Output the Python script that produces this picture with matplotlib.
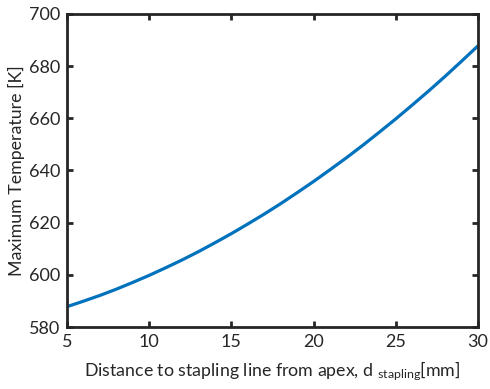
import matplotlib
matplotlib.use("Agg")
import matplotlib.pyplot as plt

distance_mm = [5, 6, 7, 8, 9, 10, 11, 12, 13, 14, 15, 16, 17, 18, 19, 20,
               21, 22, 23, 24, 25, 26, 27, 28, 29, 30]
max_temp_K = [587.8, 589.9, 592.1, 594.5, 597.1, 599.8, 602.7, 605.7, 608.9,
              612.3, 615.8, 619.5, 623.3, 627.3, 631.5, 635.8, 640.3, 644.9,
              649.7, 654.7, 659.8, 665.1, 670.5, 676.1, 681.9, 687.8]
x_ticks = [5, 10, 15, 20, 25, 30]
y_ticks = [580, 600, 620, 640, 660, 680, 700]

plt.rcParams['font.family'] = ['Lato', 'DejaVu Sans']
plt.rcParams['mathtext.fontset'] = 'custom'
plt.rcParams['mathtext.rm'] = 'Lato'
plt.rcParams['mathtext.it'] = 'Lato:italic'

txt = '#262626'
fig = plt.figure(figsize=(4.9, 3.89), dpi=100)
ax = fig.add_axes([67/490, 1 - 327/389, (478-67)/490, (327-14)/389])
ax.plot(distance_mm, max_temp_K, color='#0072BD', lw=2.3, solid_capstyle='butt')
ax.set_xlim(5, 30)
ax.set_ylim(580, 700)
ax.set_xticks(x_ticks)
ax.set_yticks(y_ticks)
for s in ax.spines.values():
    s.set_linewidth(2.0)
    s.set_color(txt)
ax.tick_params(direction='in', length=4, width=2.0, color=txt, labelcolor=txt,
               labelsize=13, top=True, right=True, pad=5)
ax.set_xlabel('Distance to stapling line from apex, d $_{\\mathrm{stapling}}$[mm]',
              fontsize=12.8, color=txt, labelpad=7)
ax.set_ylabel('Maximum Temperature [K]', fontsize=12.8, color=txt, labelpad=3)
fig.savefig('out.png', dpi=100)
